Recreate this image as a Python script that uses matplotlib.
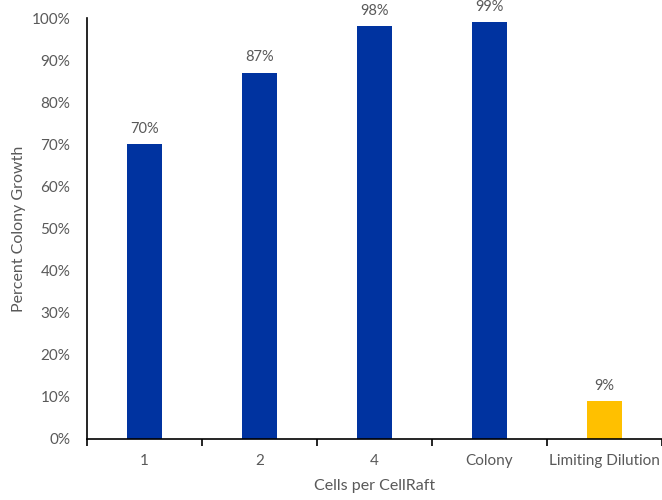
import matplotlib
matplotlib.use("Agg")
import matplotlib.pyplot as plt
from matplotlib.ticker import PercentFormatter, FixedLocator

categories = ["1", "2", "4", "Colony", "Limiting Dilution"]
values = [70, 87, 98, 99, 9]
colors = ["#0033A0", "#0033A0", "#0033A0", "#0033A0", "#FFC000"]
y_ticks = [0, 10, 20, 30, 40, 50, 60, 70, 80, 90, 100]

plt.rcParams["font.family"] = ["Lato", "DejaVu Sans"]
text_color = "#595959"

fig = plt.figure(figsize=(6.62, 5.0), dpi=100)
ax = fig.add_axes([87 / 662, 61 / 500, 575 / 662, 421 / 500])

x = list(range(len(categories)))
ax.bar(x, values, width=0.31, color=colors, zorder=2)

for xi, v in zip(x, values):
    ax.text(xi, v + 2.0, f"{v}%", ha="center", va="bottom",
            fontsize=10.5, color=text_color, clip_on=False)

ax.set_xlim(-0.5, len(categories) - 0.5)
ax.set_ylim(0, 100)
ax.set_yticks(y_ticks)
ax.yaxis.set_major_formatter(PercentFormatter(decimals=0))
ax.set_xticks(x)
ax.set_xticklabels(categories)
ax.xaxis.set_minor_locator(FixedLocator([i - 0.5 for i in range(len(categories) + 1)]))

ax.tick_params(axis="x", which="major", length=0, pad=11, labelsize=11, colors=text_color)
ax.tick_params(axis="x", which="minor", length=5, width=1.2, color="black", direction="out")
ax.tick_params(axis="y", length=0, pad=12, labelsize=11, colors=text_color)

for side in ["top", "right"]:
    ax.spines[side].set_visible(False)
ax.spines["left"].set_linewidth(1.2)
ax.spines["bottom"].set_linewidth(1.2)

ax.set_xlabel("Cells per CellRaft", fontsize=11.5, color=text_color, labelpad=8)
ax.set_ylabel("Percent Colony Growth", fontsize=11.5, color=text_color, labelpad=4)

fig.savefig("out.png", dpi=100)
